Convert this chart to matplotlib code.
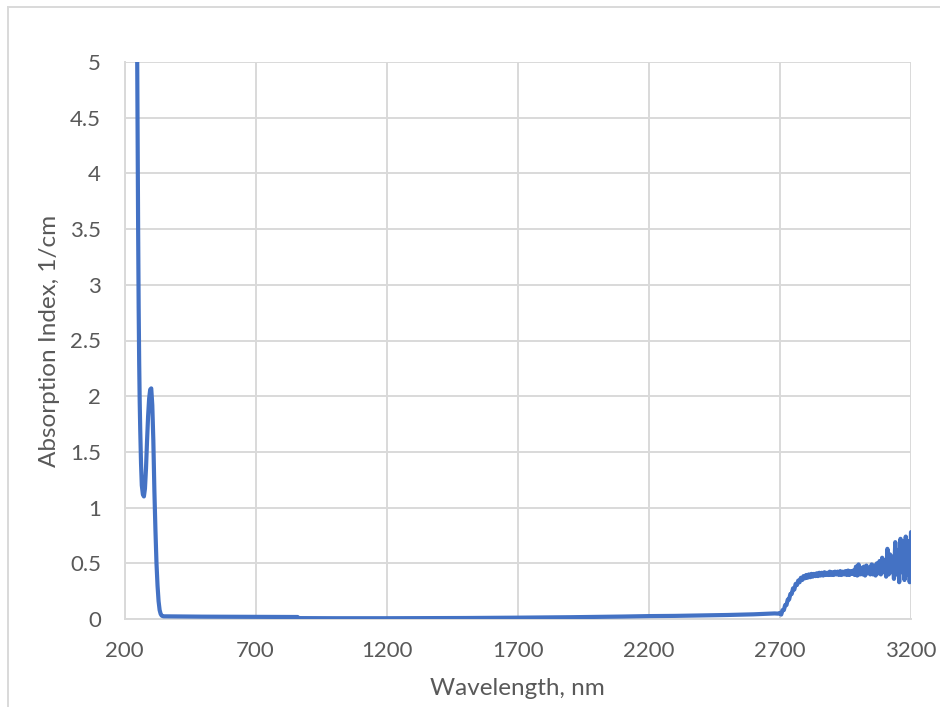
import numpy as np
import matplotlib
matplotlib.use("Agg")
import matplotlib.pyplot as plt
from matplotlib.lines import Line2D
from matplotlib.ticker import FuncFormatter

# ---- data ----
uv_wl = [244, 248, 250, 252, 254, 256, 258, 260, 263, 266, 270, 274, 278, 282,
         286, 290, 294, 298, 302, 306, 310, 314, 318, 322, 326, 330, 334, 338,
         342, 346]
uv_val = [7.0, 5.2, 4.3, 3.5, 2.8, 2.3, 1.95, 1.7, 1.4, 1.2, 1.12, 1.1, 1.17,
          1.35, 1.6, 1.82, 1.98, 2.06, 2.07, 1.92, 1.6, 1.15, 0.8, 0.5, 0.3,
          0.16, 0.08, 0.045, 0.03, 0.026]

vis_wl = [350, 500, 700, 860, 865, 1000, 1200, 1500, 1700, 1900, 2100, 2200,
          2300, 2400, 2500, 2600, 2650, 2680, 2695]
vis_val = [0.024, 0.021, 0.019, 0.018, 0.008, 0.007, 0.007, 0.009, 0.012,
           0.016, 0.022, 0.026, 0.028, 0.032, 0.036, 0.042, 0.047, 0.05, 0.048]

ir_wl = list(range(2700, 3205, 5))
ir_val = [0.055, 0.040, 0.080, 0.080, 0.125, 0.125, 0.175, 0.175, 0.225, 0.225,
          0.275, 0.265, 0.315, 0.305, 0.345, 0.33, 0.37, 0.35, 0.385, 0.365,
          0.395, 0.37, 0.40, 0.375, 0.405, 0.38, 0.405, 0.385, 0.41, 0.385,
          0.415, 0.39, 0.415, 0.39, 0.42, 0.395, 0.415, 0.395, 0.425, 0.395,
          0.42, 0.395, 0.425, 0.40, 0.425, 0.395, 0.43, 0.395, 0.425, 0.40,
          0.43, 0.395, 0.435, 0.395, 0.43, 0.405, 0.435, 0.395, 0.47, 0.39,
          0.49, 0.40, 0.46, 0.40, 0.47, 0.39, 0.48, 0.41, 0.46, 0.40,
          0.49, 0.40, 0.48, 0.39, 0.50, 0.41, 0.52, 0.40, 0.55, 0.42,
          0.53, 0.38, 0.63, 0.40, 0.58, 0.42, 0.56, 0.36, 0.69, 0.40,
          0.62, 0.33, 0.72, 0.42, 0.70, 0.35, 0.74, 0.40, 0.70, 0.33,
          0.78]

x_ticks = [200, 700, 1200, 1700, 2200, 2700, 3200]
y_ticks = [0, 0.5, 1, 1.5, 2, 2.5, 3, 3.5, 4, 4.5, 5]

wl = uv_wl + vis_wl + ir_wl
val = uv_val + vis_val + ir_val

# ---- figure ----
plt.rcParams['font.family'] = ['Lato', 'DejaVu Sans']
fig = plt.figure(figsize=(9.4, 7.07), dpi=100)
ax = fig.add_axes([124.5 / 940, 1 - 619 / 707, (911 - 124.5) / 940, (619 - 62) / 707])

ax.plot(wl, val, color='#4472C4', lw=3.0, solid_joinstyle='round',
        solid_capstyle='round', clip_on=True, zorder=3)

ax.set_xlim(200, 3200)
ax.set_ylim(0, 5)
ax.set_xticks(x_ticks)
ax.set_yticks(y_ticks)
ax.yaxis.set_major_formatter(FuncFormatter(lambda v, p: f"{v:g}"))

grid_c = '#d9d9d9'
ax.grid(True, color=grid_c, lw=1.4, zorder=0)
ax.set_axisbelow(True)
for s in ['top', 'right']:
    ax.spines[s].set_visible(False)
for s in ['left', 'bottom']:
    ax.spines[s].set_color(grid_c)
    ax.spines[s].set_linewidth(1.4)
ax.tick_params(length=0, labelsize=16, labelcolor='#595959')
ax.tick_params(axis='y', pad=17)
ax.tick_params(axis='x', pad=16)

ax.set_xlabel('Wavelength, nm', fontsize=17.5, color='#595959', labelpad=12)
ax.set_ylabel('Absorption Index, 1/cm', fontsize=17.5, color='#595959', labelpad=7)

# outer chart frame (left and top edges visible)
fig.add_artist(Line2D([8 / 940, 8 / 940], [0, 1 - 7 / 707], transform=fig.transFigure,
                      color=grid_c, lw=1.4))
fig.add_artist(Line2D([8 / 940, 1], [1 - 7 / 707, 1 - 7 / 707], transform=fig.transFigure,
                      color=grid_c, lw=1.4))

fig.savefig('out.png', dpi=100)
